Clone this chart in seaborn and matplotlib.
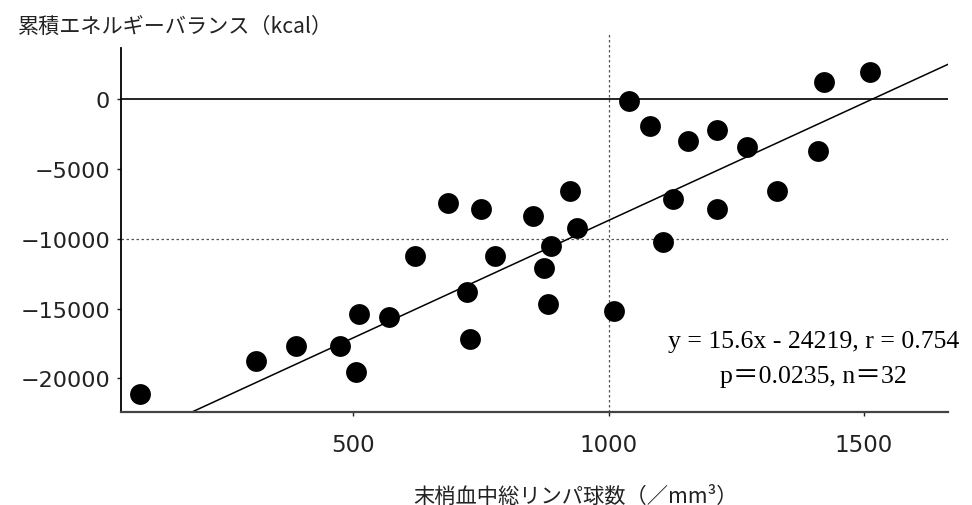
import numpy as np
import pandas as pd
import matplotlib
matplotlib.use("Agg")
import matplotlib.pyplot as plt
import seaborn as sns

# lymphocyte count (/mm3) vs cumulative energy balance (kcal)
lymph = [83, 309, 387, 474, 505, 511, 569, 729, 722, 620,
         685, 750, 778, 852, 874, 881, 888, 924, 939, 1040,
         1082, 1156, 1212, 1272, 1411, 1423, 1512, 1126, 1212, 1331,
         1106, 1011]
energy = [-21110, -18770, -17700, -17700, -19560, -15400, -15620, -17200, -13830, -11260,
          -7440, -7870, -11260, -8370, -12070, -14670, -10500, -6600, -9230, -120,
          -1930, -3000, -2200, -3460, -3740, 1200, 1930, -7130, -7870, -6580,
          -10210, -15190]

# regression line as drawn in the figure
fit_slope = 16.8
fit_intercept = -25490

x_ticks = [500, 1000, 1500]
y_ticks = [0, -5000, -10000, -15000, -20000]

eq_text = "y = 15.6x - 24219, r = 0.754\np＝0.0235, n＝32"
x_label = "末梢血中総リンパ球数（／mm³）"
y_label = "累積エネルギーバランス（kcal）"

df = pd.DataFrame({"lymph": lymph, "energy": energy})

sns.set_style("ticks")
plt.rcParams['font.family'] = ['DejaVu Sans', 'Noto Sans CJK JP']

fig = plt.figure(figsize=(9.72, 5.06), dpi=100)
ax = fig.add_axes([0.1245, 0.1832, 0.8508, 0.7194])

# reference lines
ax.axhline(0, color="black", lw=1.2, zorder=1)
ax.axhline(-10000, color="#555555", lw=0.9, ls=(0, (2, 2)), zorder=1)
ax.axvline(1000, ymax=1.04, color="#555555", lw=0.9, ls=(0, (2, 2)), zorder=1, clip_on=False)

# regression line
ax.axline((0, fit_intercept), slope=fit_slope, color="black", lw=1.1, zorder=2)

sns.scatterplot(data=df, x="lymph", y="energy", ax=ax, color="black",
                s=225, edgecolor="black", linewidth=0, zorder=3, legend=False)

ax.set_xlim(45, 1665)
ax.set_ylim(-22420, 3630)
ax.set_xticks(x_ticks)
ax.set_yticks(y_ticks)
ax.set_yticklabels([f"{v}".replace("-", "\u2212") for v in y_ticks])
ax.set_xlabel("")
ax.set_ylabel("")

sns.despine(ax=ax)
ax.spines["left"].set_color("black")
ax.spines["left"].set_linewidth(1.3)
ax.spines["bottom"].set_color("#444444")
ax.spines["bottom"].set_linewidth(1.6)
ax.tick_params(axis="y", length=3, width=1, pad=5, labelsize=16, colors="#222222")
ax.tick_params(axis="x", length=3, width=1, pad=12, labelsize=16.5, colors="#222222")

fig.text(0.837, 0.289, eq_text, ha="center", va="center",
         fontsize=18.5, linespacing=1.75,
         family=["Liberation Serif", "Noto Sans CJK JP"], color="black")

fig.text(0.018, 0.946, y_label, ha="left", va="center", fontsize=15.2,
         family=["Noto Sans CJK JP", "DejaVu Sans"], color="#222222")
fig.text(0.592, 0.018, x_label, ha="center", va="center", fontsize=15.3,
         family=["Noto Sans CJK JP", "DejaVu Sans"], color="#222222")

fig.savefig("out.png", dpi=100)
